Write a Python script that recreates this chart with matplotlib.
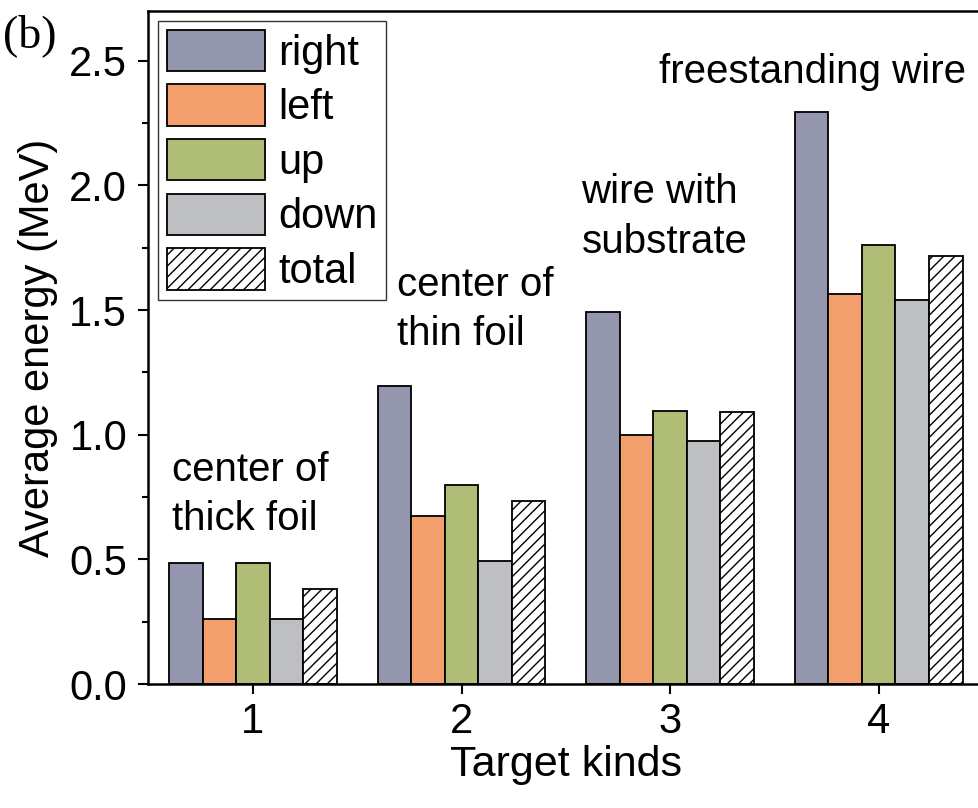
import numpy as np
import matplotlib.pyplot as plt
from matplotlib.ticker import MultipleLocator

plt.rcParams['font.family'] = ['Liberation Sans', 'DejaVu Sans']
plt.rcParams['hatch.linewidth'] = 1.0

# data
kinds = [1, 2, 3, 4]
series = ["right", "left", "up", "down", "total"]
right = [0.487, 1.195, 1.492, 2.296]
left = [0.26, 0.676, 1.0, 1.564]
up = [0.485, 0.80, 1.096, 1.76]
down = [0.26, 0.495, 0.976, 1.54]
total = [0.38, 0.736, 1.092, 1.716]

colors = ["#9396AC", "#F4A06E", "#AFBD76", "#BEBFC3", "white"]
hatches = [None, None, None, None, "///"]

notes = ["center of\nthick foil", "center of\nthin foil",
         "wire with\nsubstrate", "freestanding wire"]
# (x, baseline of last line) in data units
note_xy = [(0.61, 0.618), (1.69, 1.36), (2.575, 1.73), (2.945, 2.41)]

fig = plt.figure(figsize=(9.79, 8.08), dpi=100)
ax = fig.add_axes([148 / 979, 1 - 684 / 808, 835 / 979, 673 / 808])

x = np.array(kinds, dtype=float)
w = 0.161
vals = [right, left, up, down, total]
for i, (name, v) in enumerate(zip(series, vals)):
    ax.bar(x + (i - 2) * w, v, w, color=colors[i], edgecolor="black",
           linewidth=1.3, hatch=hatches[i], label=name, zorder=2)

for txt, (tx, ty) in zip(notes, note_xy):
    ax.text(tx, ty, txt, fontsize=29, ha="left", va="baseline",
            linespacing=1.38)

ax.set_xlim(0.497, 4.5)
ax.set_ylim(0, 2.7)
ax.set_xticks(kinds)
ax.yaxis.set_major_locator(MultipleLocator(0.5))
ax.yaxis.set_minor_locator(MultipleLocator(0.25))
ax.tick_params(axis="both", direction="out", labelsize=30, width=1.5)
ax.tick_params(axis="y", which="major", length=7, pad=8)
ax.tick_params(axis="y", which="minor", length=4, width=1.5)
ax.tick_params(axis="x", length=7, pad=6)
for s in ax.spines.values():
    s.set_linewidth(1.8)

ax.set_xlabel("Target kinds", fontsize=31, labelpad=2)
ax.set_ylabel("Average energy (MeV)", fontsize=30, labelpad=8)

leg = ax.legend(loc="upper left", bbox_to_anchor=(0.0, 1.0), fontsize=30,
                handlelength=2.35, handleheight=1.15, labelspacing=0.26,
                handletextpad=0.33, borderpad=0.2, borderaxespad=0.25,
                fancybox=False, framealpha=1, edgecolor="#333333")
leg.get_frame().set_linewidth(1.0)

fig.text(3 / 979, 1 - 47 / 808, "(b)", fontsize=33, va="baseline",
         family=["Liberation Serif", "DejaVu Serif"])

fig.savefig("out.png", dpi=100)
